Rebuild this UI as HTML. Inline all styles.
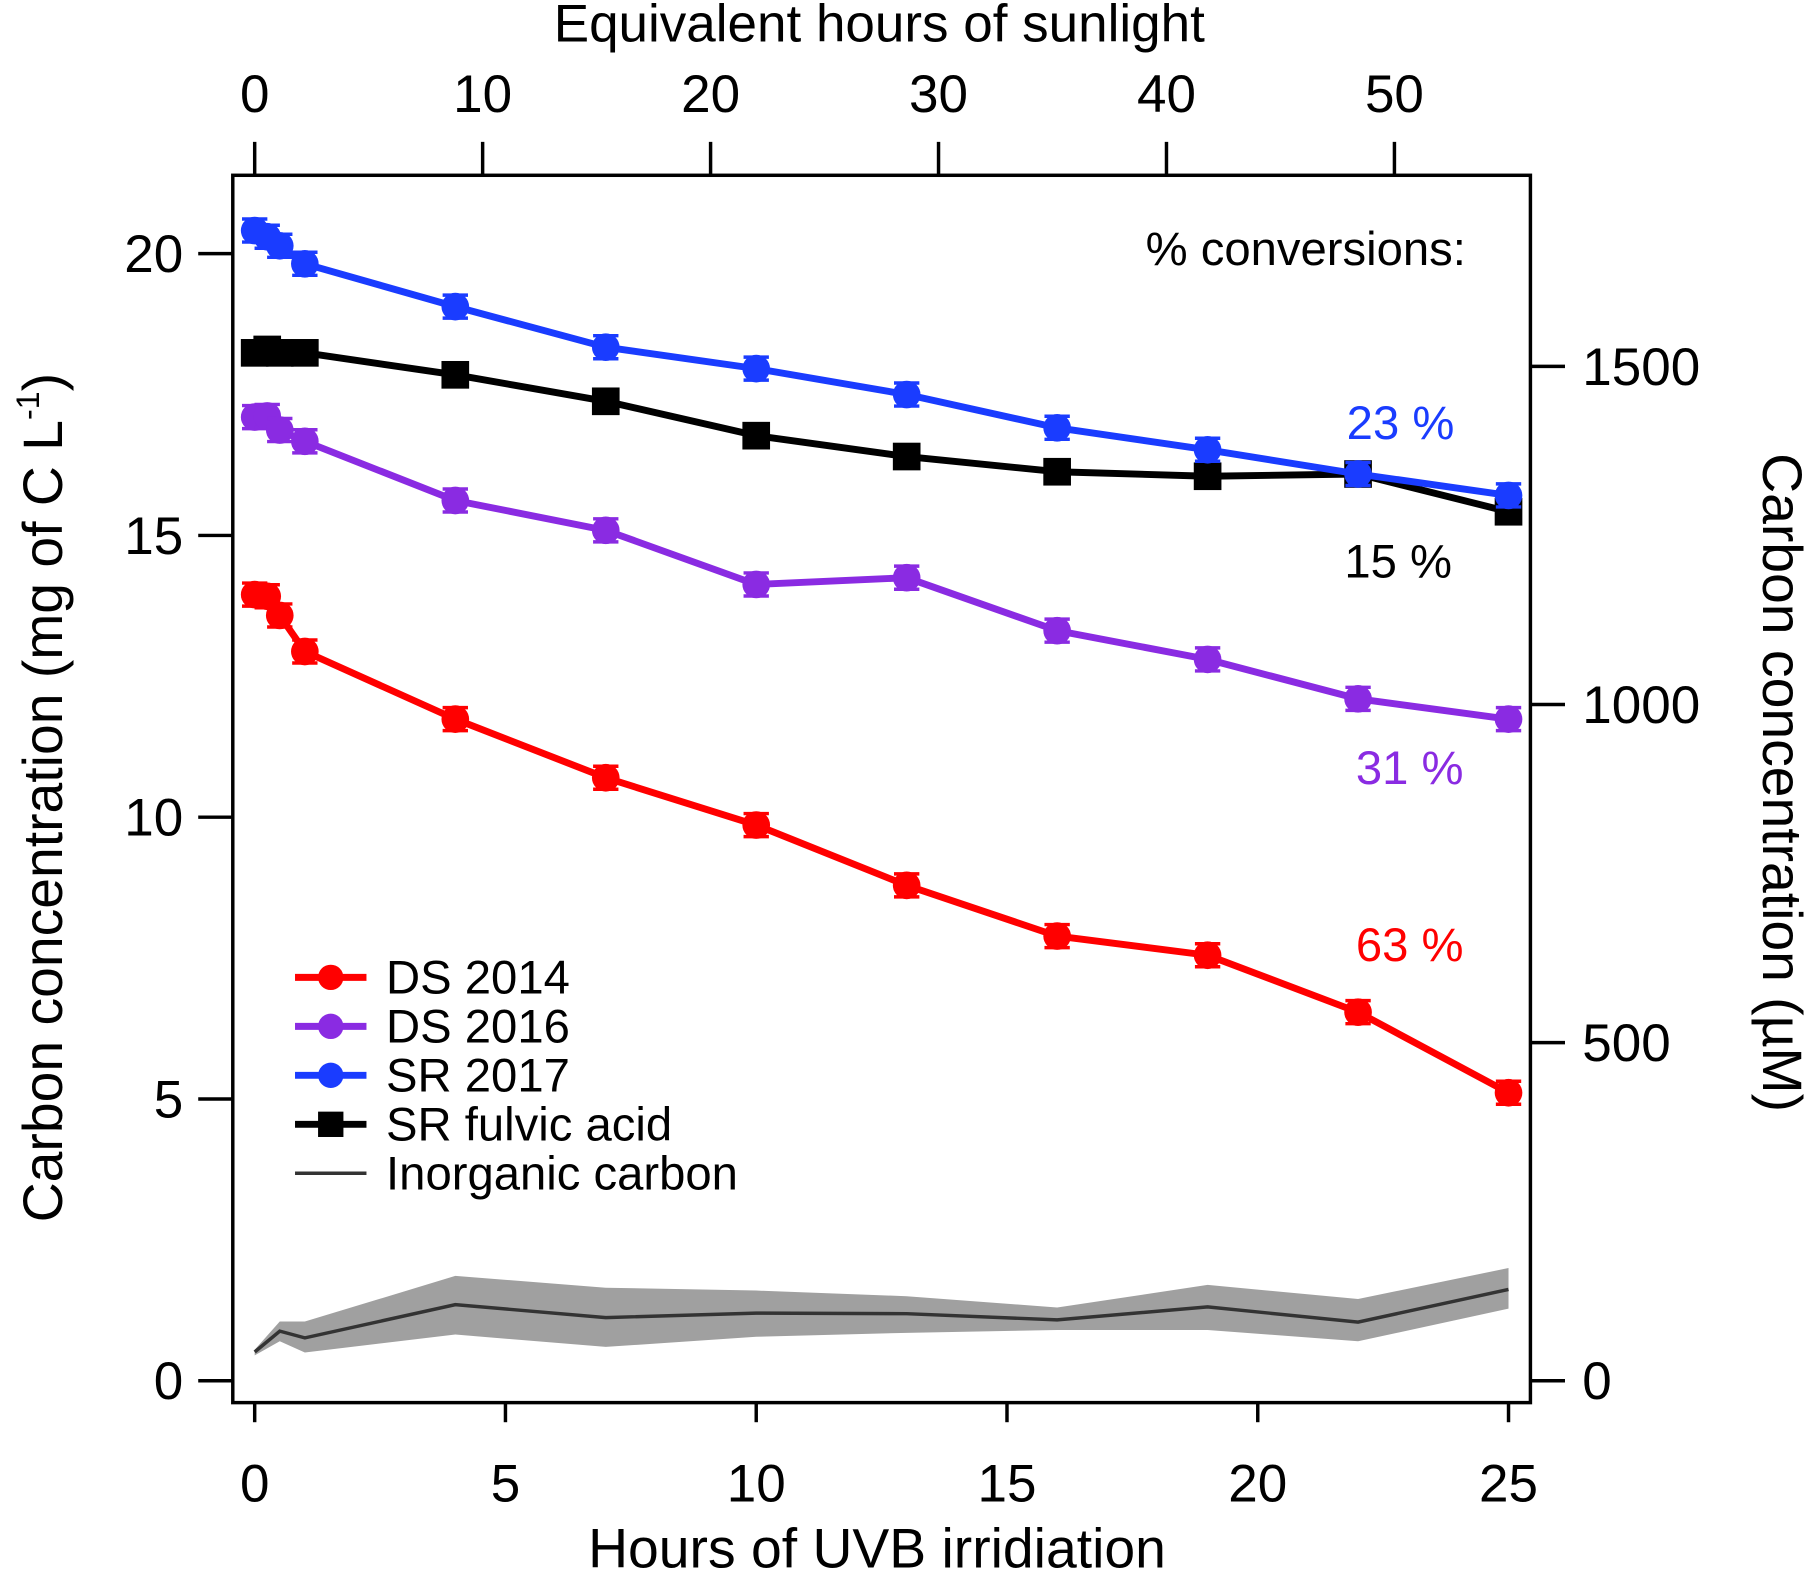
<!DOCTYPE html>
<html><head><meta charset="utf-8"><style>
html,body{margin:0;padding:0;background:#fff}
svg{display:block;font-family:"Liberation Sans",Arial,sans-serif}
</style></head><body>
<svg id="chart" width="1807" height="1571" viewBox="0 0 1568 1363" xmlns="http://www.w3.org/2000/svg">
<rect width="1568" height="1363" fill="#fff"/>
<g id="marks"></g>
<rect x="202" y="152" width="1126" height="1065" fill="none" stroke="#000" stroke-width="3"/>
<g id="axes"></g>
<text x="763" y="36" font-size="46" text-anchor="middle">Equivalent hours of sunlight</text>
<text x="761" y="1360" font-size="48" text-anchor="middle">Hours of UVB irridiation</text>
<text transform="translate(54,692) rotate(-90)" font-size="48" text-anchor="middle">Carbon concentration (mg of C L<tspan font-size="28" dy="-20">-1</tspan><tspan dy="20">)</tspan></text>
<text transform="translate(1530,679) rotate(90)" font-size="48" text-anchor="middle">Carbon concentration (µM)</text>
<text x="1272" y="230" font-size="41" text-anchor="end">% conversions:</text>
<text x="1262" y="381" font-size="41" text-anchor="end" fill="#1a3cff">23 %</text>
<text x="1260" y="501" font-size="41" text-anchor="end" fill="#000">15 %</text>
<text x="1270" y="680" font-size="41" text-anchor="end" fill="#8a2be2">31 %</text>
<text x="1270" y="834" font-size="41" text-anchor="end" fill="#ff0000">63 %</text>
<g id="legend"></g>
<script>
const hours = [0,0.25,0.5,1,4,7,10,13,16,19,22,25];
const ds2014 = [13.95,13.92,13.58,12.94,11.74,10.7,9.86,8.79,7.89,7.55,6.54,5.11];
const ds2016 = [17.1,17.12,16.87,16.67,15.62,15.09,14.13,14.25,13.31,12.8,12.1,11.74];
const sr2017 = [20.41,20.3,20.14,19.82,19.06,18.34,17.96,17.5,16.91,16.52,16.09,15.71];
const fulvic = [18.24,18.3,18.24,18.24,17.85,17.38,16.77,16.4,16.13,16.05,16.09,15.42];
const inorgHours = [0,0.5,1,4,7,10,13,16,19,22,25];
const inorg = [0.51,0.88,0.76,1.35,1.12,1.2,1.19,1.08,1.31,1.04,1.62];
const inorgLow = [0.45,0.7,0.5,0.82,0.6,0.78,0.85,0.9,0.9,0.7,1.28];
const inorgHigh = [0.55,1.05,1.05,1.86,1.65,1.6,1.5,1.3,1.7,1.45,2.0];
const xTicks = [0,5,10,15,20,25];
const yTicks = [0,5,10,15,20];
const rightTicks = [0,500,1000,1500];
const topTicks = [0,10,20,30,40,50];

const NS="http://www.w3.org/2000/svg";
const X=h=>221+h*(1309-221)/25;
const Y=v=>1198-v*48.9;
const YuM=u=>Y(u*12/1000);
const XT=s=>221+s*(1210-221)/50;
function el(tag,attrs,parent){const e=document.createElementNS(NS,tag);for(const k in attrs)e.setAttribute(k,attrs[k]);parent.appendChild(e);return e;}
const marks=document.getElementById('marks'), axes=document.getElementById('axes'), legend=document.getElementById('legend');

let pts=inorgHours.map((h,i)=>X(h)+','+Y(inorgHigh[i])).concat(inorgHours.map((h,i)=>X(h)+','+Y(inorgLow[i])).reverse());
const band=el('polygon',{points:pts.join(' '),fill:'#a0a0a0'},marks);


const il=el('polyline',{points:inorgHours.map((h,i)=>X(h)+','+Y(inorg[i])).join(' '),fill:'none',stroke:'#333',"stroke-width":3},marks);



function series(name,data,color,square){
  const g=el('g',{},marks);
  
  
  el('polyline',{points:hours.map((h,i)=>X(h)+','+Y(data[i])).join(' '),fill:'none',stroke:color,"stroke-width":6,"stroke-linejoin":"round"},g);
  hours.forEach((h,i)=>{
    const cx=X(h),cy=Y(data[i]);
    el('line',{x1:cx,x2:cx,y1:cy-10,y2:cy+10,stroke:color,"stroke-width":3},g);
    el('line',{x1:cx-11,x2:cx+11,y1:cy-10,y2:cy-10,stroke:color,"stroke-width":3},g);
    el('line',{x1:cx-11,x2:cx+11,y1:cy+10,y2:cy+10,stroke:color,"stroke-width":3},g);
    let m;
    if(square) m=el('rect',{x:cx-12,y:cy-12,width:24,height:24,fill:color},g);
    else m=el('circle',{cx:cx,cy:cy,r:12,fill:color},g);
    
    
  });
}
series('ds2016',ds2016,'#8a2be2',false);
series('ds2014',ds2014,'#ff0000',false);
series('sr-fulvic-acid',fulvic,'#000',true);
series('sr2017',sr2017,'#1a3cff',false);

xTicks.forEach(t=>{el('line',{x1:X(t),x2:X(t),y1:1217,y2:1234,stroke:'#000',"stroke-width":3},axes);
  const tx=el('text',{x:X(t),y:1303,"font-size":46,"text-anchor":"middle"},axes);tx.textContent=t;
  
  });
yTicks.forEach(t=>{el('line',{x1:172,x2:202,y1:Y(t),y2:Y(t),stroke:'#000',"stroke-width":3},axes);
  const tx=el('text',{x:159,y:Y(t)+16,"font-size":46,"text-anchor":"end"},axes);tx.textContent=t;
  
  });
rightTicks.forEach(t=>{el('line',{x1:1328,x2:1358,y1:YuM(t),y2:YuM(t),stroke:'#000',"stroke-width":3},axes);
  const tx=el('text',{x:1373,y:YuM(t)+16,"font-size":46},axes);tx.textContent=t;
  
  });
topTicks.forEach(t=>{el('line',{x1:XT(t),x2:XT(t),y1:123,y2:152,stroke:'#000',"stroke-width":3},axes);
  const tx=el('text',{x:XT(t),y:97,"font-size":46,"text-anchor":"middle"},axes);tx.textContent=t;
  
  });

const leg=[['DS 2014','#ff0000','c'],['DS 2016','#8a2be2','c'],['SR 2017','#1a3cff','c'],['SR fulvic acid','#000','s'],['Inorganic carbon','#333','l']];
leg.forEach((L,i)=>{const y=848+i*42.5;
  const g=el('g',{},legend);
  
  
  el('line',{x1:256,x2:318,y1:y,y2:y,stroke:L[1],"stroke-width":L[2]=='l'?3:6},g);
  if(L[2]=='c')el('circle',{cx:287,cy:y,r:11,fill:L[1]},g);
  if(L[2]=='s')el('rect',{x:276,y:y-11,width:22,height:22,fill:L[1]},g);
  const t=el('text',{x:335,y:y+14,"font-size":41},g);t.textContent=L[0];});
</script>
</svg>
</body></html>
